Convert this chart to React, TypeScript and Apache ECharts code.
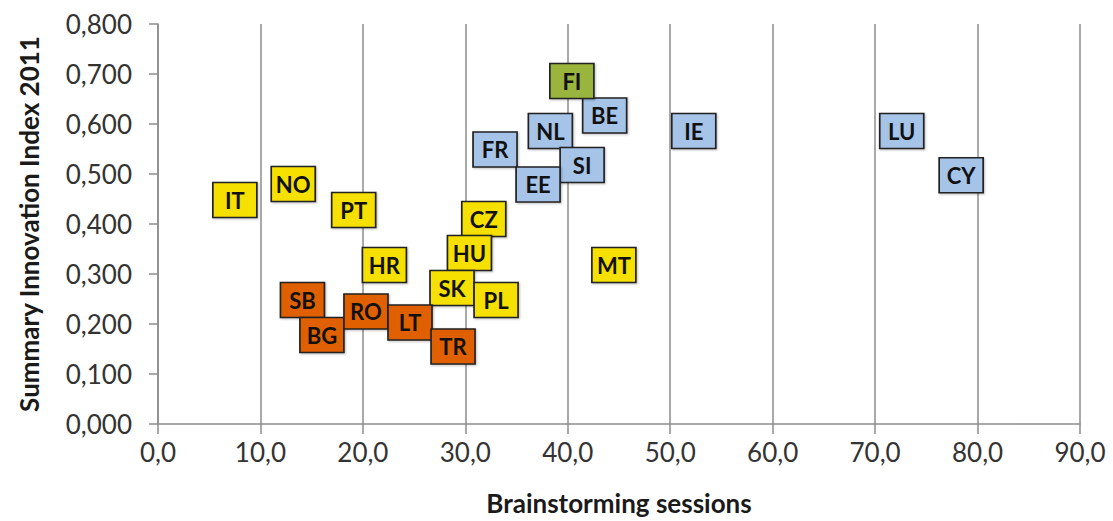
import React, { useEffect, useRef } from "react";
import * as echarts from "echarts";

const countries = ["IT", "NO", "PT", "HR", "CZ", "HU", "SK", "PL", "MT", "SB", "BG", "RO", "LT", "TR", "FR", "NL", "BE", "SI", "EE", "IE", "LU", "CY", "FI"];
const sessions = [7.5, 13.2, 19.1, 22.1, 31.8, 30.4, 28.7, 33.0, 44.5, 14.1, 16.0, 20.3, 24.6, 28.8, 32.9, 38.3, 43.6, 41.4, 37.1, 52.3, 72.6, 78.4, 40.4];
const innovation = [0.448, 0.48, 0.428, 0.318, 0.41, 0.342, 0.272, 0.248, 0.318, 0.248, 0.178, 0.225, 0.203, 0.155, 0.549, 0.586, 0.617, 0.518, 0.479, 0.586, 0.586, 0.4975, 0.686];
const groups = ["yellow", "yellow", "yellow", "yellow", "yellow", "yellow", "yellow", "yellow", "yellow", "orange", "orange", "orange", "orange", "orange", "blue", "blue", "blue", "blue", "blue", "blue", "blue", "blue", "green"];

const groupNames = ["yellow", "orange", "blue", "green"];
const groupColors: Record<string, string> = {
  yellow: "#F5E000",
  orange: "#E06000",
  blue: "#A6C3E8",
  green: "#9AB53C",
};

const FONT = "Lato, 'Open Sans', sans-serif";

export default function App() {
  const ref = useRef<HTMLDivElement>(null);
  useEffect(() => {
    if (!ref.current) return;
    const chart = echarts.init(ref.current, null, { renderer: "svg" });
    const series = groupNames.map((g) => ({
      type: "scatter",
      name: g,
      symbol: "rect",
      symbolSize: [44, 35],
      itemStyle: {
        color: groupColors[g],
        borderColor: "#222222",
        borderWidth: 1.5,
        opacity: 1,
        shadowColor: "rgba(0,0,0,0.25)",
        shadowBlur: 2,
        shadowOffsetX: 1,
        shadowOffsetY: 1,
      },
      label: {
        show: true,
        position: "inside",
        formatter: (p: any) => p.data[2],
        fontFamily: FONT,
        fontWeight: "bold",
        fontSize: 22,
        color: "#111111",
      },
      emphasis: { disabled: true },
      data: countries
        .map((c, i) => [sessions[i], innovation[i], c, groups[i]])
        .filter((d) => d[3] === g),
    }));
    chart.setOption({
      animation: false,
      grid: { left: 158, right: 33, top: 24, bottom: 95 },
      xAxis: {
        type: "value",
        min: 0,
        max: 90,
        interval: 10,
        name: "Brainstorming sessions",
        nameLocation: "middle",
        nameGap: 66,
        nameTextStyle: { fontFamily: FONT, fontWeight: "bold", fontSize: 26, color: "#1a1a1a" },
        axisLine: { show: true, lineStyle: { color: "#8c8c8c", width: 1.5 } },
        axisTick: { show: true, length: 10, lineStyle: { color: "#8c8c8c", width: 1.5 } },
        axisLabel: {
          margin: 15,
          fontFamily: FONT,
          fontSize: 26,
          color: "#333333",
          formatter: (v: number) => v.toFixed(1).replace(".", ","),
        },
        splitLine: { show: true, lineStyle: { color: "#8c8c8c", width: 1.5 } },
      },
      yAxis: {
        type: "value",
        min: 0,
        max: 0.8,
        interval: 0.1,
        name: "Summary Innovation Index 2011",
        nameLocation: "middle",
        nameGap: 116,
        nameTextStyle: { fontFamily: FONT, fontWeight: "bold", fontSize: 26, color: "#1a1a1a" },
        axisLine: { show: true, lineStyle: { color: "#8c8c8c", width: 1.5 } },
        axisTick: { show: true, length: 9, lineStyle: { color: "#8c8c8c", width: 1.5 } },
        axisLabel: {
          margin: 26,
          fontFamily: FONT,
          fontSize: 26,
          color: "#333333",
          formatter: (v: number) => v.toFixed(3).replace(".", ","),
        },
        splitLine: { show: false },
      },
      series,
    });
    return () => chart.dispose();
  }, []);
  return (
    <div
      ref={ref}
      style={{ position: "fixed", left: 0, top: 0, width: 1113, height: 521, background: "#fff" }}
    />
  );
}
